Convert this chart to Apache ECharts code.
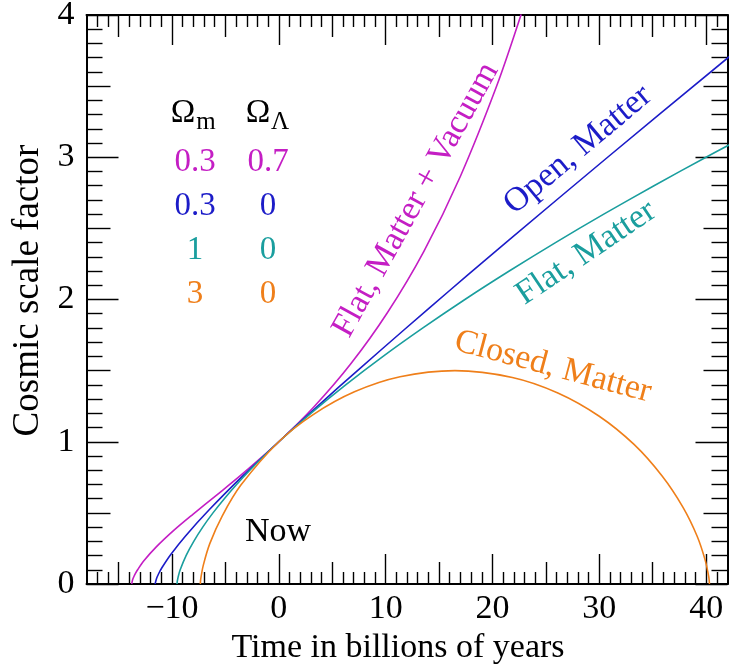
<!DOCTYPE html>
<html><head><meta charset="utf-8">
<script src="https://cdn.jsdelivr.net/npm/echarts@6/dist/echarts.min.js"></script>
<style>html,body{margin:0;padding:0;background:#fff}#c{width:729px;height:670px}</style>
</head><body><div id="c"></div>
<script>
// ---- data ----
const magT = [-13.77,-13.71,-13.66,-13.54,-13.43,-13.20,-12.63,-11.49,-9.78,-8.07,-5.79,-3.52,0,3.32,6.74,10.16,13.58,16.99,20.41,22.69];
const magA = [0,0.022,0.035,0.056,0.073,0.102,0.163,0.259,0.380,0.488,0.627,0.767,1.0,1.248,1.548,1.907,2.339,2.865,3.504,4.005];
const bluT = [-11.57,-11.55,-11.49,-11.40,-11.25,-10.93,-10.11,-8.73,-6.56,-3.30,0,1.43,5.66,9.56,14.13,17.64,21.56,30.78,42.21];
const bluA = [0,0.0097,0.027,0.047,0.072,0.116,0.208,0.338,0.518,0.765,1.0,1.100,1.387,1.645,1.943,2.169,2.419,3.000,3.710];
const teaT = [-9.53,-9.50,-9.42,-9.23,-8.68,-7.96,-7.12,-6.16,-5.10,-3.95,-2.71,-1.39,0,3.00,6.26,9.76,13.49,17.42,21.57,25.90,30.42,35.12,39.99,42.49];
const teaA = [0,0.02,0.05,0.1,0.2,0.3,0.4,0.5,0.6,0.7,0.8,0.9,1.0,1.2,1.4,1.6,1.8,2.0,2.2,2.4,2.6,2.8,3.0,3.1];
const oraT = [-7.34,-7.31,-7.07,-6.46,-5.30,-3.53,0,3.22,7.08,11.35,16.49,21.86,26.12,29.96,33.25,35.88,37.85,39.17,39.91,40.24,40.30,40.31];
const oraA = [0,0.034,0.131,0.284,0.478,0.697,1.0,1.191,1.351,1.457,1.5,1.452,1.343,1.181,0.981,0.759,0.537,0.334,0.168,0.054,0.0125,0];

const xMajor = [-10,0,10,20,30,40];
const xMid = [-15,-5,5,15,25,35];
const xMinor = [-17,-16,-14,-13,-12,-11,-9,-8,-7,-6,-4,-3,-2,-1,1,2,3,4,6,7,8,9,11,12,13,14,16,17,18,19,21,22,23,24,26,27,28,29,31,32,33,34,36,37,38,39,41];
const yMajor = [0,1,2,3,4];
const yMid = [0.5,1.5,2.5,3.5];
const yMinor = [0.1,0.2,0.3,0.4,0.6,0.7,0.8,0.9,1.1,1.2,1.3,1.4,1.6,1.7,1.8,1.9,2.1,2.2,2.3,2.4,2.6,2.7,2.8,2.9,3.1,3.2,3.3,3.4,3.6,3.7,3.8,3.9];

const legendHead = ['Ω','Ω'];
const legendSub = ['m','Λ'];
const legendCol1 = ['0.3','0.3','1','3'];
const legendCol2 = ['0.7','0','0','0'];
const colors = ['#c41ec4','#1c1cc8','#1a9e9e','#ef7f1a'];

// ---- chart ----
const FONT = 'Liberation Serif';
const FS = 34;
function pairs(t, a){ return t.map((v,i)=>[v,a[i]]); }
const noLine = {show:false, onZero:false};
function xAx(pos, vals, len, opts){
  return Object.assign({
    type:'value', position:pos, min:-18, max:42, gridIndex:0,
    axisLine:noLine, splitLine:{show:false},
    axisTick:{show:true, inside:true, length:len, customValues:vals, lineStyle:{color:'#000', width:1.4}},
    axisLabel:{show:false}
  }, opts||{});
}
function yAx(pos, vals, len, opts){
  return Object.assign({
    type:'value', position:pos, min:0, max:4, gridIndex:0,
    axisLine:noLine, splitLine:{show:false},
    axisTick:{show:true, inside:true, length:len, customValues:vals, lineStyle:{color:'#000', width:1.4}},
    axisLabel:{show:false}
  }, opts||{});
}
const frame = {show:true, onZero:false, lineStyle:{color:'#000', width:2}};
const lbl = {show:true, color:'#000', fontFamily:FONT, fontSize:FS};

const xAxes = [
  xAx('bottom', xMajor, 30, {axisLine:frame, axisLabel:Object.assign({customValues:xMajor, margin:8, formatter:v=>String(v).replace('-','\u2212')}, lbl),
      name:'Time in billions of years', nameLocation:'middle', nameGap:44,
      nameTextStyle:{color:'#000', fontFamily:FONT, fontSize:FS, padding:[0,18,0,0]}}),
  xAx('bottom', xMid, 22),
  xAx('bottom', xMinor, 12),
  xAx('top', xMajor, 30, {axisLine:frame}),
  xAx('top', xMid, 22),
  xAx('top', xMinor, 12)
];
const yAxes = [
  yAx('left', yMajor, 32, {axisLine:frame, axisLabel:Object.assign({customValues:yMajor, margin:12}, lbl),
      name:'Cosmic scale factor', nameLocation:'middle', nameGap:36, nameRotate:90,
      nameTextStyle:{color:'#000', fontFamily:FONT, fontSize:37, padding:[0,0,0,18]}}),
  yAx('left', yMid, 24),
  yAx('left', yMinor, 16),
  yAx('right', yMajor, 32, {axisLine:frame}),
  yAx('right', yMid, 24),
  yAx('right', yMinor, 16)
];

function line(t,a,c){
  return {type:'line', xAxisIndex:0, yAxisIndex:0, data:pairs(t,a), showSymbol:false, symbol:'none',
    smooth:0.3, clip:true, lineStyle:{color:c, width:1.6}, silent:true};
}

function txt(x,y,s,color,rotDeg,size){
  return {type:'text', x:x, y:y, rotation:(rotDeg||0)*Math.PI/180, silent:true,
    style:{text:s, fill:color, font: (size||FS)+'px "'+FONT+'"', align:'center', verticalAlign:'middle'}};
}
const graphics = [
  txt(183,113,legendHead[0],'#000',0,33), txt(206,122,legendSub[0],'#000',0,25),
  txt(258,113,legendHead[1],'#000',0,33), txt(280,122,legendSub[1],'#000',0,25)
];
legendCol1.forEach((s,i)=>graphics.push(txt(195,162+i*44,s,colors[i],0,33)));
legendCol2.forEach((s,i)=>graphics.push(txt(268,162+i*44,s,colors[i],0,33)));
graphics.push(txt(416,200,'Flat, Matter + Vacuum',colors[0],61,FS));
graphics.push(txt(578,150,'Open, Matter',colors[1],40,FS));
graphics.push(txt(586,253,'Flat, Matter',colors[2],34,FS));
graphics.push(txt(553,367,'Closed, Matter',colors[3],-15,FS));
graphics.push(txt(278,532,'Now','#000',0,FS));

const chart = echarts.init(document.getElementById('c'), null, {renderer:'canvas'});
chart.setOption({
  animation:false,
  backgroundColor:'#fff',
  grid:{left:86.5, right:1.5, top:15, bottom:86, containLabel:false, outerBoundsMode:'none'},
  xAxis:xAxes, yAxis:yAxes,
  series:[line(magT,magA,colors[0]), line(bluT,bluA,colors[1]), line(teaT,teaA,colors[2]), line(oraT,oraA,colors[3])],
  graphic:graphics
});
</script></body></html>
